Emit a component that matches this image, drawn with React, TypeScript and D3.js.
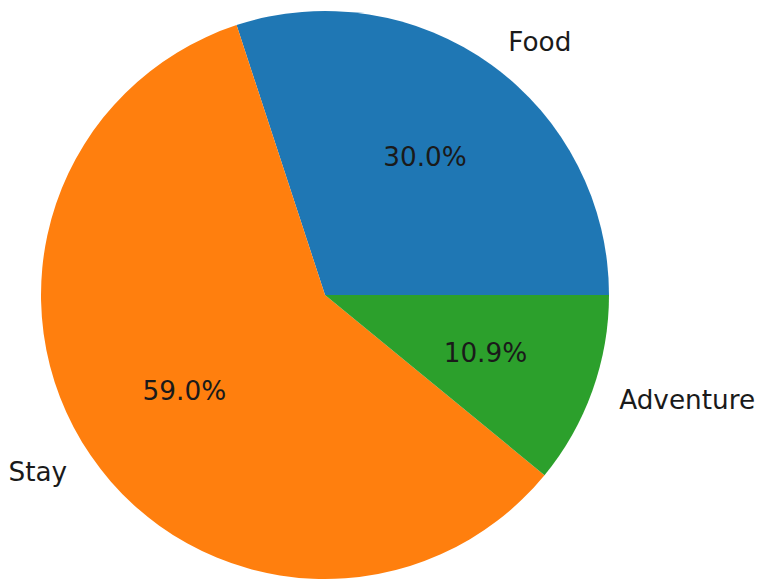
import React from "react";
import * as d3 from "d3";

const categories = ["Food", "Stay", "Adventure"];
const values = [30.04, 59.02, 10.94];
const colors = ["#1f77b4", "#ff7f0e", "#2ca02c"];

const W = 760;
const H = 579;
const cx = 325;
const cy = 295;
const R = 284;

export default function App() {
  const total = d3.sum(values);
  let acc = 0;
  const slices = values.map((v, i) => {
    const a0 = (acc / total) * 2 * Math.PI;
    acc += v;
    const a1 = (acc / total) * 2 * Math.PI;
    return { i, v, a0, a1 };
  });
  const arc = d3.arc<any>().innerRadius(0).outerRadius(R);
  const fmt = d3.format(".1f");
  return (
    <svg width={W} height={H} style={{ position: "absolute", left: 0, top: 0 }}>
      <rect width={W} height={H} fill="white" />
      <g transform={`translate(${cx},${cy})`}>
        {slices.map((s) => (
          <path
            key={s.i}
            d={arc({ startAngle: Math.PI / 2 - s.a1, endAngle: Math.PI / 2 - s.a0 }) as string}
            fill={colors[s.i]}
          />
        ))}
        {slices.map((s) => {
          const m = (s.a0 + s.a1) / 2;
          const lx = 1.1 * R * Math.cos(m);
          const ly = -1.1 * R * Math.sin(m);
          const px = 0.6 * R * Math.cos(m);
          const py = -0.6 * R * Math.sin(m);
          return (
            <g key={"t" + s.i} fontFamily="DejaVu Sans" fontSize={26.3} fill="#1a1a1a">
              <text x={lx} y={ly} dy="0.35em" textAnchor={lx > 0 ? "start" : "end"}>
                {categories[s.i]}
              </text>
              <text x={px} y={py} dy="0.35em" textAnchor="middle">
                {fmt((s.v / total) * 100) + "%"}
              </text>
            </g>
          );
        })}
      </g>
    </svg>
  );
}
